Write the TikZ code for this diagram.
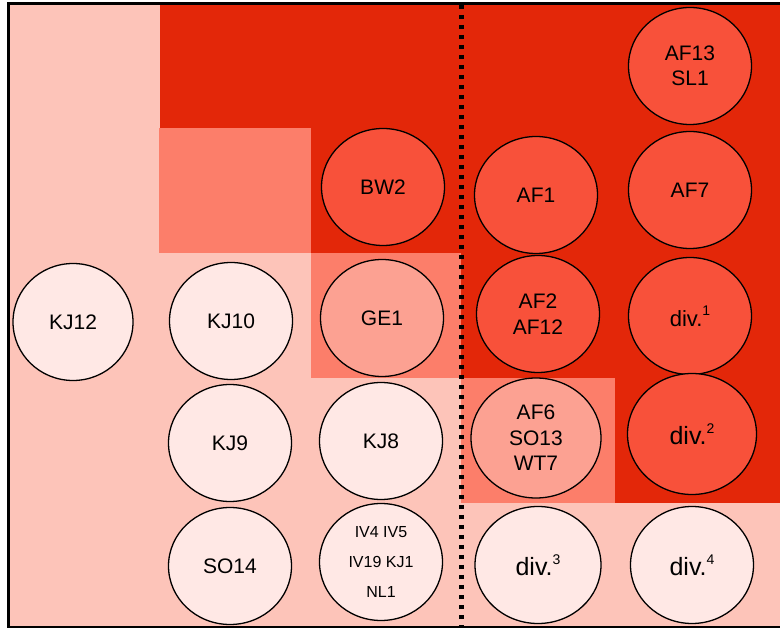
\documentclass[tikz,border=0pt]{standalone}
\usepackage{fontspec}
\setmainfont{Liberation Sans}
\usetikzlibrary{shapes.geometric}
\definecolor{bgpink}{RGB}{253,196,185}
\definecolor{deepred}{RGB}{227,39,9}
\definecolor{midsalmon}{RGB}{252,126,106}
\definecolor{redfill}{RGB}{248,81,58}
\definecolor{salmonfill}{RGB}{252,161,146}
\definecolor{palefill}{RGB}{255,232,229}
\newcommand{\divsup}[2]{div.\raisebox{#2}{\fontsize{14}{14}\selectfont #1}}

\begin{document}
\begin{tikzpicture}[x=1pt,y=-1pt,
    site/.style={ellipse, draw, line width=1.3pt, minimum width=123pt, minimum height=117pt,
        inner sep=0pt, align=center, font=\fontsize{21}{25.5}\selectfont},
    hot/.style={site, fill=redfill},
    warm/.style={site, fill=salmonfill},
    cold/.style={site, fill=palefill},
    bigdiv/.style={font=\fontsize{25}{30}\selectfont}]
    \useasboundingbox (0,0) rectangle (780,628);

    % Background areas
    \fill[bgpink] (10,5) rectangle (780,627);
    \fill[deepred] (160,5) -- (780,5) -- (780,503) -- (615,503) -- (615,378) -- (461,378)
        -- (461,253) -- (311,253) -- (311,128) -- (160,128) -- cycle;
    \fill[midsalmon] (159,128) rectangle (311,253);
    \fill[midsalmon] (311,253) rectangle (461,378);
    \fill[midsalmon] (461,378) rectangle (615,503);

    % Frame and divider
    \draw[line width=3pt] (781,3.5) -- (8.5,3.5) -- (8.5,627.5) -- (781,627.5);
    \draw[line width=5pt, dash pattern=on 4pt off 6pt] (461.5,5) -- (461.5,627);

    % Top row
    \node[hot] (af13) at (690,66) {AF13\\SL1};

    % Second row
    \node[hot] (bw2) at (383,187) {BW2};
    \node[hot] (af1) at (536,195) {AF1};
    \node[hot] (af7) at (690,190) {AF7};

    % Third row
    \node[cold, minimum width=120pt] (kj12) at (73,322) {KJ12};
    \node[cold] (kj10) at (231,321) {KJ10};
    \node[warm] (ge1) at (382,318) {GE1};
    \node[hot] (af2) at (538,314) {AF2\\AF12};
    \node[hot, font=\fontsize{22}{26}\selectfont] (div1) at (690,316) {\divsup{1}{0.5em}};

    % Fourth row
    \node[cold] (kj9) at (230,443) {KJ9};
    \node[cold] (kj8) at (381,441) {KJ8};
    \node[warm, minimum width=130pt, minimum height=120pt] (af6) at (536,438) {AF6\\SO13\\WT7};
    \node[hot, bigdiv, minimum width=129pt, minimum height=121pt] (div2) at (692,434) {\divsup{2}{0.45em}};

    % Bottom row
    \node[cold] (so14) at (230,566) {SO14};
    \node[cold, font=\fontsize{16}{30}\selectfont] (iv) at (381,562) {IV4 IV5\\IV19 KJ1\\NL1};
    \node[cold, bigdiv, minimum width=126pt] (div3) at (538,565) {\divsup{3}{0.45em}};
    \node[cold, bigdiv] (div4) at (692,565) {\divsup{4}{0.45em}};
\end{tikzpicture}
\end{document}
